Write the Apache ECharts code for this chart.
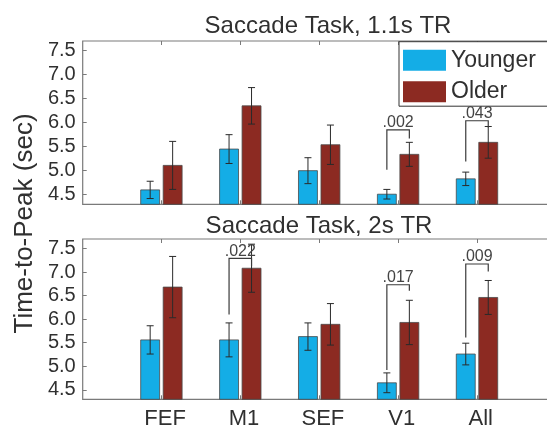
<!DOCTYPE html>
<html><head><meta charset="utf-8">
<script src="https://cdn.jsdelivr.net/npm/echarts@6/dist/echarts.min.js"></script>
<style>html,body{margin:0;padding:0;background:#fff}#c{width:547px;height:427px}</style>
</head><body><div id="c"></div>
<script>
const categories = ['FEF', 'M1', 'SEF', 'V1', 'All'];
const yTicks = [4.5, 5.0, 5.5, 6.0, 6.5, 7.0, 7.5];
const legendNames = ['Younger', 'Older'];
const panelTitles = ['Saccade Task, 1.1s TR', 'Saccade Task, 2s TR'];
const yAxisName = 'Time-to-Peak (sec)';

// Panel 1: Saccade Task, 1.1s TR
const younger1 = [4.60, 5.45, 5.00, 4.51, 4.83];
const youngerErr1 = [0.18, 0.30, 0.27, 0.10, 0.14];
const older1 = [5.11, 6.35, 5.54, 5.34, 5.59];
const olderErr1 = [0.50, 0.38, 0.41, 0.25, 0.33];

// Panel 2: Saccade Task, 2s TR
const younger2 = [5.56, 5.56, 5.63, 4.65, 5.26];
const youngerErr2 = [0.30, 0.36, 0.29, 0.21, 0.23];
const older2 = [6.68, 7.08, 5.89, 5.93, 6.46];
const olderErr2 = [0.65, 0.51, 0.44, 0.47, 0.36];

// significance brackets: [category index, left end, top, right end, p label]
const brackets1 = [[3, 5.02, 5.85, 5.67, '.002'], [4, 5.19, 6.04, 5.90, '.043']];
const brackets2 = [[1, 6.10, 7.29, 7.12, '.022'], [3, 4.92, 6.73, 6.60, '.017'], [4, 5.61, 7.17, 7.01, '.009']];

const Y_MIN = 4.3, Y_MAX = 7.7;
const X_MIN = 0, X_MAX = 6;
const BAR_W = 0.24, Y_OFF = -0.145, O_OFF = 0.14;
const FONT = '"Liberation Sans", Arial, Helvetica, sans-serif';
const TXT = '#303030';
const AXC = '#7a7a7a';
const C_Y = '#14ADE6', C_O = '#8C2A22';

function barRender(offset, color) {
  return function (params, api) {
    const x = api.value(0) + 1 + offset;
    const v = api.value(1);
    const p1 = api.coord([x - BAR_W / 2, v]);
    const p2 = api.coord([x + BAR_W / 2, Y_MIN]);
    return {
      type: 'rect',
      shape: { x: p1[0], y: p1[1], width: p2[0] - p1[0], height: p2[1] - p1[1] },
      style: { fill: color, stroke: '#4a4a4a', lineWidth: 0.8 }
    };
  };
}
function errRender(offset) {
  return function (params, api) {
    const x = api.value(0) + 1 + offset;
    const v = api.value(1), e = api.value(2);
    const t = api.coord([x, v + e]), b = api.coord([x, v - e]);
    const cw = 3.5;
    const st = { stroke: '#2a2a2a', lineWidth: 1 };
    return {
      type: 'group', children: [
        { type: 'line', shape: { x1: t[0], y1: t[1], x2: b[0], y2: b[1] }, style: st },
        { type: 'line', shape: { x1: t[0] - cw, y1: t[1], x2: t[0] + cw, y2: t[1] }, style: st },
        { type: 'line', shape: { x1: b[0] - cw, y1: b[1], x2: b[0] + cw, y2: b[1] }, style: st }
      ]
    };
  };
}
function bracketRender(arr) {
  return function (params, api) {
    const c = api.value(0) + 1;
    const l = api.coord([c + Y_OFF, api.value(1)]);
    const t = api.coord([c + Y_OFF, api.value(2)]);
    const tr = api.coord([c + O_OFF, api.value(2)]);
    const r = api.coord([c + O_OFF, api.value(3)]);
    return {
      type: 'group', children: [
        { type: 'polyline', shape: { points: [l, t, tr, r] }, style: { fill: null, stroke: '#3a3a3a', lineWidth: 1.2 } },
        { type: 'text', x: (t[0] + tr[0]) / 2, y: t[1] - 7,
          style: { text: arr[params.dataIndex][4], textAlign: 'center', textVerticalAlign: 'middle', font: '16px ' + FONT, fill: '#444' } }
      ]
    };
  };
}

function idx(arr) { return arr.map((v, i) => [i, v]); }
function idxErr(arr, err) { return arr.map((v, i) => [i, v, err[i]]); }

function makeX(gridIndex, pos, showLabel) {
  return {
    gridIndex, type: 'value', min: X_MIN, max: X_MAX, position: pos,
    axisLine: { show: false }, splitLine: { show: false },
    axisTick: { show: true, inside: true, length: 4, customValues: [1, 2, 3, 4, 5], lineStyle: { color: AXC, width: 1 } },
    axisLabel: showLabel ? {
      show: true, customValues: [1, 2, 3, 4, 5], formatter: v => categories[Math.round(v) - 1],
      fontSize: 22, fontFamily: FONT, color: TXT, margin: 9, padding: [0, 0, 0, 7]
    } : { show: false }
  };
}
function makeY(gridIndex) {
  return {
    gridIndex, type: 'value', min: Y_MIN, max: Y_MAX,
    axisLine: { show: false }, splitLine: { show: false },
    axisTick: { show: true, inside: true, length: 4, customValues: yTicks, lineStyle: { color: AXC, width: 1 } },
    axisLabel: { show: true, customValues: yTicks, formatter: v => v.toFixed(1), fontSize: 20, fontFamily: FONT, color: TXT, margin: 7 }
  };
}

const panels = [
  { y: younger1, ye: youngerErr1, o: older1, oe: olderErr1, br: brackets1 },
  { y: younger2, ye: youngerErr2, o: older2, oe: olderErr2, br: brackets2 }
];
const series = [];
panels.forEach((p, g) => {
  const ax = { xAxisIndex: g * 2, yAxisIndex: g };
  series.push(Object.assign({ type: 'custom', name: legendNames[0], renderItem: barRender(Y_OFF, C_Y), data: idx(p.y), itemStyle: { color: C_Y }, z: 2 }, ax));
  series.push(Object.assign({ type: 'custom', name: legendNames[1], renderItem: barRender(O_OFF, C_O), data: idx(p.o), itemStyle: { color: C_O }, z: 2 }, ax));
  series.push(Object.assign({ type: 'custom', renderItem: errRender(Y_OFF), data: idxErr(p.y, p.ye), z: 3 }, ax));
  series.push(Object.assign({ type: 'custom', renderItem: errRender(O_OFF), data: idxErr(p.o, p.oe), z: 3 }, ax));
  series.push(Object.assign({ type: 'custom', renderItem: bracketRender(p.br), data: p.br.map(b => [b[0], b[1], b[2], b[3]]), clip: false, z: 4 }, ax));
});

const chart = echarts.init(document.getElementById('c'), null, { renderer: 'canvas' });
chart.setOption({
  animation: false,
  backgroundColor: '#fff',
  grid: [
    { left: 82.7, top: 41, width: 473.4, height: 163.3, show: true, borderColor: AXC, borderWidth: 1.2, backgroundColor: 'transparent', containLabel: false, outerBoundsMode: 'none' },
    { left: 82.7, top: 239, width: 473.4, height: 160.3, show: true, borderColor: AXC, borderWidth: 1.2, backgroundColor: 'transparent', containLabel: false, outerBoundsMode: 'none' }
  ],
  xAxis: [makeX(0, 'bottom', false), makeX(0, 'top', false), makeX(1, 'bottom', true), makeX(1, 'top', false)],
  yAxis: [makeY(0), makeY(1)],
  legend: {
    data: [{ name: legendNames[0], icon: 'rect' }, { name: legendNames[1], icon: 'rect' }],
    orient: 'vertical', left: 399, top: 41.7,
    padding: [7, 30, 3, 4], itemWidth: 43, itemHeight: 21, itemGap: 8.5,
    backgroundColor: '#fff', borderColor: '#333', borderWidth: 1,
    textStyle: { fontSize: 23, fontFamily: FONT, color: TXT, lineHeight: 21 },
    itemStyle: { borderWidth: 0 },
    selectedMode: false, z: 10
  },
  graphic: [
    { type: 'text', x: 328, y: 26, style: { text: panelTitles[0], textAlign: 'center', textVerticalAlign: 'middle', font: '24px ' + FONT, fill: TXT } },
    { type: 'text', x: 319, y: 226, style: { text: panelTitles[1], textAlign: 'center', textVerticalAlign: 'middle', font: '24px ' + FONT, fill: TXT } },
    { type: 'text', x: 25, y: 223.5, rotation: Math.PI / 2, style: { text: yAxisName, textAlign: 'center', textVerticalAlign: 'middle', font: '26px ' + FONT, fill: TXT } }
  ],
  series
});
</script>
</body></html>
